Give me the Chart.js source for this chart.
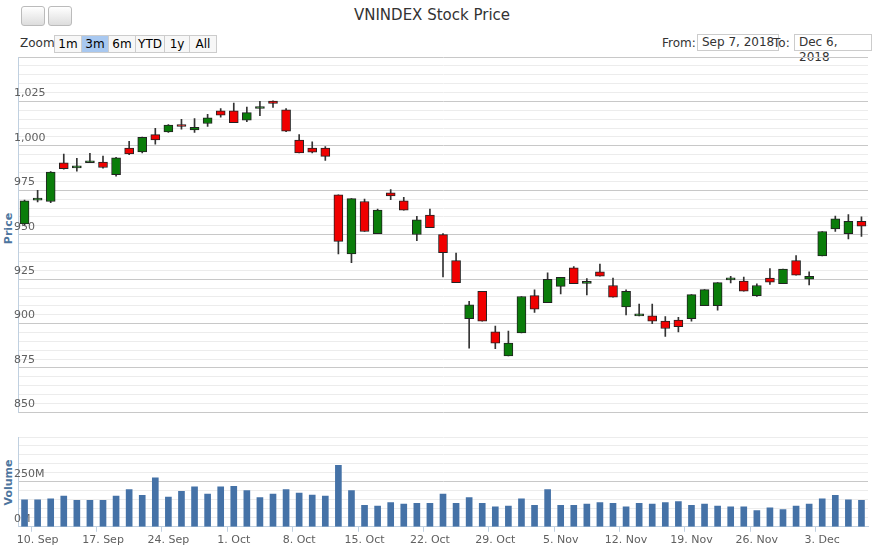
<!DOCTYPE html>
<html><head><meta charset="utf-8">
<script src="https://cdn.jsdelivr.net/npm/chart.js@4/dist/chart.umd.min.js"></script>
<style>
body{margin:0;width:872px;height:549px;background:#fff;font-family:"DejaVu Sans",sans-serif;position:relative;overflow:hidden}
.abs{position:absolute}
.btn{position:absolute;top:35px;height:16px;line-height:16px;font-size:12px;color:#000;background:#f7f7f7;border:1px solid #ccc;text-align:center}
.box{position:absolute;top:34px;height:15px;line-height:15px;font-size:12px;border:1px solid #ccc;padding:0 4px;color:#333}
.ic{position:absolute;top:6px;width:22px;height:18px;border:1px solid #bbb;border-radius:3px;background:linear-gradient(#fff,#ddd)}
.vt{position:absolute;transform:rotate(-90deg);font-size:11px;font-weight:bold;color:#4d759e;transform-origin:center}
</style></head><body>
<div class="ic" style="left:21px"></div><div class="ic" style="left:48px"></div>
<div class="abs" style="left:0;width:864px;top:6px;text-align:center;font-size:15px;color:#333">VNINDEX Stock Price</div>
<div class="abs" style="left:20px;top:36px;font-size:12px;color:#333">Zoom</div>
<div class="btn" style="left:54px;width:26px">1m</div>
<div class="btn" style="left:81px;width:26px;background:#a8c8f0">3m</div>
<div class="btn" style="left:108px;width:26px">6m</div>
<div class="btn" style="left:135px;width:28px">YTD</div>
<div class="btn" style="left:164px;width:24px">1y</div>
<div class="btn" style="left:189px;width:26px">All</div>
<div class="abs" style="left:662px;top:36px;font-size:12px;color:#333">From:</div>
<div class="box" style="left:697px">Sep 7, 2018</div>
<div class="abs" style="left:773px;top:36px;font-size:12px;color:#333">To:</div>
<div class="box" style="left:794px">Dec 6, 2018</div>
<div class="vt" style="left:-10px;top:222px;width:36px;text-align:center">Price</div>
<div class="vt" style="left:-16px;top:476px;width:48px;text-align:center">Volume</div>
<canvas id="p" class="abs" style="left:0;top:50px" width="872" height="365"></canvas>
<canvas id="v" class="abs" style="left:0;top:430px" width="872" height="119"></canvas>
<script>
const dates=["2018-09-07","2018-09-10","2018-09-11","2018-09-12","2018-09-13","2018-09-14","2018-09-17","2018-09-18","2018-09-19","2018-09-20","2018-09-21","2018-09-24","2018-09-25","2018-09-26","2018-09-27","2018-09-28","2018-10-01","2018-10-02","2018-10-03","2018-10-04","2018-10-05","2018-10-08","2018-10-09","2018-10-10","2018-10-11","2018-10-12","2018-10-15","2018-10-16","2018-10-17","2018-10-18","2018-10-19","2018-10-22","2018-10-23","2018-10-24","2018-10-25","2018-10-26","2018-10-29","2018-10-30","2018-10-31","2018-11-01","2018-11-02","2018-11-05","2018-11-06","2018-11-07","2018-11-08","2018-11-09","2018-11-12","2018-11-13","2018-11-14","2018-11-15","2018-11-16","2018-11-19","2018-11-20","2018-11-21","2018-11-22","2018-11-23","2018-11-26","2018-11-27","2018-11-28","2018-11-29","2018-11-30","2018-12-03","2018-12-04","2018-12-05","2018-12-06"];
const openP=[956,969.5,968.7,990.5,987.6,990.5,990.9,983.8,998.7,996.6,1006.3,1007.8,1012,1009,1012.6,1019.7,1019.7,1014.5,1021,1025.2,1020.2,1003.3,998.7,998.7,972.4,939.2,968.7,950.6,973.5,969.1,950.1,961.1,950,935.4,902.8,918.2,895.3,881.8,894.7,915.7,911.7,920.9,931.4,922.6,929.1,921.4,909.4,904.3,904.3,901.4,902,902.8,910,910,924.6,923.9,915.7,925.6,922.4,935.4,925,938,953.3,950.6,957.5];
const highP=[969.5,975,985.5,995.3,993,995.8,994.3,993.5,1002.5,1005,1009.9,1012,1014.9,1015.3,1017.8,1021,1024,1021.8,1025,1025.4,1021,1006.3,1002.3,999.6,972.4,970.3,970.1,964.4,975.4,971,960.4,964.4,950.6,939.6,912.5,918.2,898.6,895.7,915.2,919,928.5,926,932,925.3,933.5,925.6,919,910.9,910.9,903.9,903.5,916.3,919.1,923,926.6,926.2,922.4,931,930.6,938.2,929.1,951.8,960.5,961.3,960.1];
const lowP=[955.5,968.5,968,986.9,985.7,990.5,987.4,982.9,995,996,1001,1007.5,1009.4,1007.6,1010.9,1016.2,1013,1013.6,1017,1021.6,1008,996,996,991.8,939.2,934.2,951.8,950.6,969.7,963.8,946.6,953.9,926.2,923,886.2,901.4,885.8,881.8,894.7,906.2,911.7,916.7,922.4,916.1,926.6,914.8,904.9,904.3,899.9,892.8,895.3,901.4,910,907.5,922.8,918.2,915.2,922,922.4,927.2,921.8,938,951.8,947.6,949.1];
const closeP=[969,970.2,985.3,987.2,988,991.4,987.8,993.3,995.4,1004.8,1003.3,1011.7,1010.9,1010.4,1015.7,1017.2,1013,1018.7,1021.4,1023.9,1008.2,996,996.4,994.1,946.2,970.3,951.8,963.8,971.8,963.8,958.4,953.9,939.9,923,910.6,901.4,889,889,915.2,908.1,924.9,926,922.4,922.9,926.6,914.8,918.2,905.1,901.4,897.2,898.2,916.3,919.1,923,924.9,918.2,921.4,923.3,930.6,927.2,926.6,951.8,959,957.5,954.8];
const volumeM=[150,150,156,171,147,147,147,171,207,175,273,165,197,222,182,222,226,201,162,182,207,188,177,171,342,201,120,115,135,126,130,130,182,130,162,130,111,115,156,120,207,120,120,126,135,130,111,130,126,135,141,120,126,115,111,111,90,105,96,115,126,156,175,150,147];
const priceTicks=[850,875,900,925,950,975,1000,1025];
const volTicks=[0,250];

const labels=dates.map(d=>{const t=new Date(d+"T00:00:00Z");return t.getUTCDate()+". "+["Jan","Feb","Mar","Apr","May","Jun","Jul","Aug","Sep","Oct","Nov","Dec"][t.getUTCMonth()];});
const isMon=dates.map(d=>new Date(d+"T00:00:00Z").getUTCDay()===1);
const up=openP.map((o,i)=>closeP[i]>=o);
const fill=up.map(u=>u?'#0a7d0a':'#f00000');
const font={family:"DejaVu Sans",size:11};
Chart.defaults.animation=false;
new Chart(document.getElementById('p'),{type:'bar',
 data:{labels,datasets:[
  {data:lowP.map((l,i)=>[l,highP[i]]),backgroundColor:'#333',barThickness:1,grouped:false,order:2},
  {data:openP.map((o,i)=>[o,closeP[i]]),backgroundColor:fill,borderColor:'#222',borderWidth:1,borderSkipped:false,barThickness:9,minBarLength:2,grouped:false,order:1}
 ]},
 options:{responsive:false,layout:{padding:{left:18,right:4,top:7,bottom:0}},
  plugins:{legend:{display:false},tooltip:{enabled:false}},
  scales:{x:{display:false,offset:true},
   y:{min:850,max:1050,afterFit:s=>{s.width=0},border:{display:true,color:'#c0d0e0'},
    ticks:{stepSize:5,autoSkip:false,mirror:true,labelOffset:-8,padding:-4,color:'#606060',font,
     callback:v=>priceTicks.includes(v)?v.toLocaleString('en-US'):''},
    grid:{color:c=>c.tick.value%25===0?'#c8c8c8':'#ececec',lineWidth:1,drawTicks:false}}}}});
new Chart(document.getElementById('v'),{type:'bar',
 data:{labels,datasets:[{data:volumeM,backgroundColor:'#4572a7',barThickness:6}]},
 options:{responsive:false,layout:{padding:{left:18,right:4,top:7,bottom:0}},
  plugins:{legend:{display:false},tooltip:{enabled:false}},
  scales:{x:{offset:true,border:{color:'#c0d0e0'},
    grid:{drawOnChartArea:false,tickLength:5,color:c=>isMon[c.index]?'#c0d0e0':'rgba(0,0,0,0)'},
    ticks:{autoSkip:false,maxRotation:0,color:'#606060',font,padding:2,callback:(v,i)=>isMon[i]?labels[i]:''}},
   y:{min:0,max:500,afterFit:s=>{s.width=0},border:{display:true,color:'#c0d0e0'},
    ticks:{stepSize:50,autoSkip:false,mirror:true,labelOffset:-8,padding:-4,color:'#606060',font,
     callback:v=>volTicks.includes(v)?v+'M':''},
    grid:{color:c=>c.tick.value===250?'#c8c8c8':'#ececec',drawTicks:false}}}}});
</script></body></html>
